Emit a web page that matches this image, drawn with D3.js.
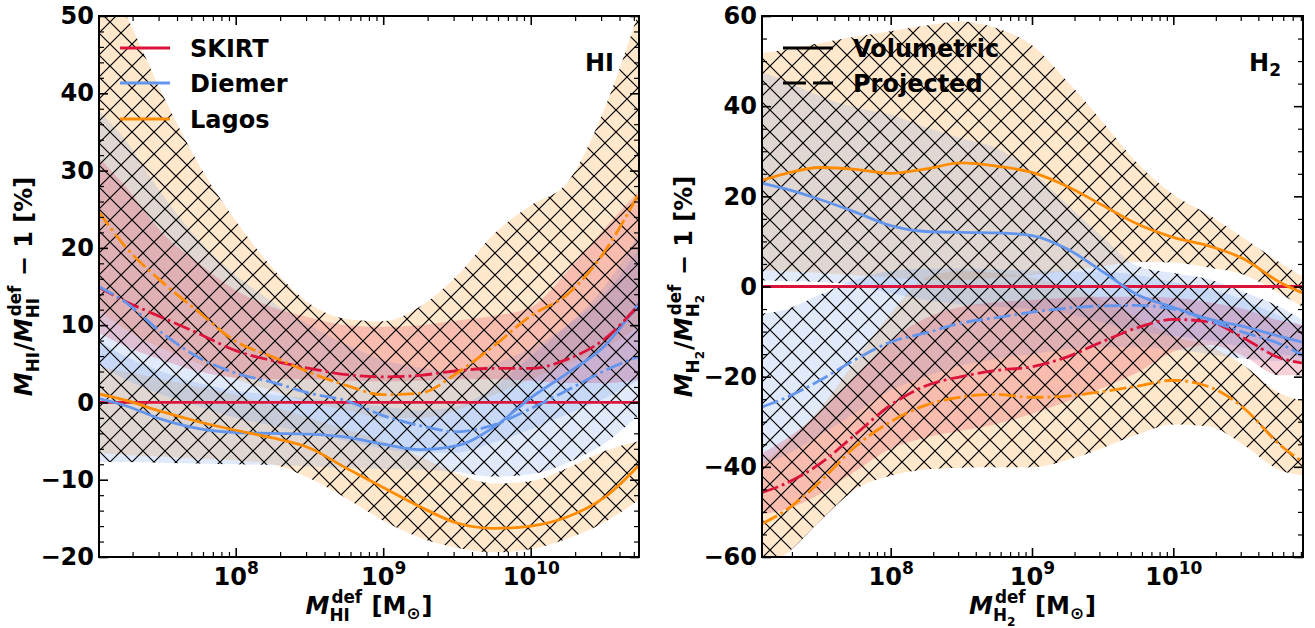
<!DOCTYPE html>
<html><head><meta charset="utf-8">
<script src="https://cdn.jsdelivr.net/npm/d3@7"></script>
<style>
html,body{margin:0;padding:0;background:#fff;}
svg{display:block;font-family:"DejaVu Sans",sans-serif;font-weight:bold;}
</style></head><body>
<svg id="chart" width="1315" height="628"></svg>
<script>
// ---------------- DATA ----------------
// Left panel (HI): log10 of M_HI^def grid
const hiLogM = [7.07, 7.25, 7.5, 7.75, 8.0, 8.25, 8.5, 8.75, 9.0, 9.25, 9.5, 9.75, 10.0, 10.25, 10.5, 10.74];
const hiSkirtVol = [0, 0, 0, 0, 0, 0, 0, 0, 0, 0, 0, 0, 0, 0, 0, 0];
const hiSkirtProj = [14.9, 13.1, 11.0, 8.9, 6.7, 5.4, 4.4, 3.6, 3.3, 3.5, 4.1, 4.4, 4.4, 5.6, 8.2, 12.8];
const hiSkirtProjLo = [9, 7.3, 5.5, 4, 3.2, 3, 3, 2.8, 2.7, 2.8, 3, 3, 2.8, 2.5, 2.5, 3];
const hiSkirtProjHi = [31.7, 28, 22, 18, 14.5, 12.3, 11, 10.0, 9.8, 10.0, 10.6, 11.2, 12.3, 17, 22.5, 27.5];
const hiDiemerVol = [0.5, -0.4, -2.2, -3.4, -3.9, -4.0, -4.1, -4.5, -5.4, -6.1, -5.6, -3.2, 0.6, 3.8, 7.3, 13];
const hiDiemerVolLo = [-7.7, -7.7, -7.8, -7.9, -8.0, -8.1, -8.3, -8.5, -8.6, -8.7, -9.0, -9.6, -9.3, -7.8, -5.3, -1.5];
const hiDiemerVolHi = [8, 6, 4, 2.5, 1.5, 1, 0.5, 0, -0.5, -1, -0.5, 2, 6, 10, 15, 22];
const hiDiemerProj = [15, 13, 9.0, 5.8, 3.8, 2.6, 1.2, 0.2, -1.7, -3.0, -3.8, -2.9, -0.8, 1.6, 4.1, 6.0];
const hiDiemerProjLo = [5, 3, 1, -0.5, -2, -3, -4, -5, -6, -6.5, -6.5, -5.2, -3.5, -1.5, 0.5, 3];
const hiDiemerProjHi = [37.8, 34, 27, 21, 16.5, 13, 10, 7.5, 5.5, 4.5, 4, 5, 7, 10, 14, 20];
const hiLagosVol = [1.1, 0.3, -1.2, -2.5, -3.6, -4.6, -5.9, -8.5, -11.0, -13.5, -15.6, -16.3, -16.0, -14.8, -12.3, -8.0];
const hiLagosVolLo = [-6.5, -6.8, -7.0, -7.3, -7.5, -8.0, -9.8, -12.4, -15.3, -17.5, -18.8, -19.4, -19.0, -17.6, -15.5, -12.5];
const hiLagosVolHi = [4.6, 4, 3, 2, 1, -0.5, -2, -3.5, -5, -7, -9.2, -10.5, -10.2, -8.5, -6.3, -5];
const hiLagosProj = [24.7, 20.2, 15.6, 11.7, 7.9, 5.9, 3.9, 2.2, 1.0, 1.2, 3.8, 7.3, 11.2, 14.0, 19.5, 27.3];
const hiLagosProjLo = [12, 9.5, 7, 5, 3, 1.5, 0, -1, -2, -2, -1, 1, 3, 5, 7, 10];
const hiLagosProjHi = [56, 50.3, 40, 30.8, 23.5, 17.4, 12.8, 10.8, 10.5, 12.4, 16.4, 21.8, 25.5, 28.5, 38, 51];

// Right panel (H2)
const h2LogM = [7.09, 7.25, 7.5, 7.75, 8.0, 8.25, 8.5, 8.75, 9.0, 9.25, 9.5, 9.75, 10.0, 10.25, 10.5, 10.75, 10.92];
const h2SkirtVol = [0, 0, 0, 0, 0, 0, 0, 0, 0, 0, 0, 0, 0, 0, 0, 0, 0];
const h2SkirtProj = [-45.7, -43.8, -39.3, -32.8, -26.3, -22, -20, -18.6, -17.8, -15.6, -12.2, -9.1, -7.3, -7.8, -11.5, -15.8, -17];
const h2SkirtProjLo = [-50.5, -49.5, -46, -41, -36, -33.5, -32, -30.5, -28.2, -25.5, -22.5, -19, -14.5, -13, -15.5, -19.7, -19.7];
const h2SkirtProjHi = [-37, -34, -28, -20, -12, -7, -4.5, -3.5, -3, -2.5, -2.3, -2.3, -2.5, -3.5, -5, -7.5, -8.5];
const h2DiemerVol = [22.9, 21.7, 19.3, 16.5, 13.5, 12.2, 12.0, 11.9, 11.3, 8.3, 3.3, -1.9, -4.6, -7.2, -8.9, -11.0, -12.4];
const h2DiemerVolLo = [1.4, 1.2, 1.0, 0.3, -1.5, -3, -4, -4.5, -5, -6, -8, -10, -11, -12, -13.5, -15, -15.6];
const h2DiemerVolHi = [47.6, 45.7, 42.2, 39.7, 38.1, 35.3, 32.9, 30.7, 25.5, 18.2, 11, 4.5, 3.0, 1.6, -1.2, -4.5, -7.5];
const h2DiemerProj = [-26.7, -24.8, -20.8, -16.2, -12.3, -10.3, -8.1, -6.9, -5.7, -4.8, -4.3, -4.2, -5.0, -7.5, -10.2, -12.7, -15.3];
const h2DiemerProjLo = [-39.4, -37.5, -33, -28, -23, -20, -17.5, -16, -15, -14, -13.5, -13.5, -14, -15, -16, -16.5, -16.5];
const h2DiemerProjHi = [-6, -5.2, -1.8, 1.5, 3.5, 4, 4, 3.8, 3.5, 3.3, 3.3, 2.5, 1, -0.5, -3, -6.5, -9];
const h2LagosVol = [23.6, 25.0, 26.4, 26.0, 25.1, 26.1, 27.4, 26.7, 25.3, 22.2, 18.0, 13.8, 10.9, 9.0, 6.1, 1.0, -1.5];
const h2LagosVolLo = [3.6, 3.4, 3, 2.5, 2, 1.5, 1.5, 2, 2.5, 3.5, 4.5, 5.5, 5.3, 4.2, 2.6, -1.5, -4.6];
const h2LagosVolHi = [51.8, 52.5, 54, 55.4, 56.6, 57.9, 58.8, 57.3, 53.5, 45.5, 36.5, 27.2, 20.4, 15.9, 10.7, 5.4, 2.1];
const h2LagosProj = [-52.6, -49.8, -43.3, -35.5, -30, -26.3, -24.5, -23.9, -24.6, -24.3, -23.3, -22.1, -20.8, -22.2, -27.0, -35.0, -39];
const h2LagosProjLo = [-62, -59.5, -52, -45, -42, -40.6, -40.2, -40.1, -40.1, -38.5, -35.8, -32.8, -30.6, -31, -35.2, -40.7, -41.9];
const h2LagosProjHi = [-39.4, -35, -27, -16.5, -6, 2, 3.5, 3, 2, 0, -3, -7, -11, -13.2, -17.5, -23.6, -25.3];

const modelNames = ["SKIRT", "Diemer", "Lagos"];
const styleNames = ["Volumetric", "Projected"];
const hiYTicks = [-20, -10, 0, 10, 20, 30, 40, 50];
const h2YTicks = [-60, -40, -20, 0, 20, 40, 60];
const xMajorTicks = [1e8, 1e9, 1e10];

// ---------------- STYLE ----------------
const COL = {SKIRT: "#DC143C", Diemer: "#6495ED", Lagos: "#FF8C00"};
const FONT = 24, SUBF = 17, LW = 2.8;

const svg = d3.select("#chart");
const defs = svg.append("defs");
const HS = 22;
const pat = defs.append("pattern").attr("id", "xhatch").attr("patternUnits", "userSpaceOnUse")
  .attr("width", HS).attr("height", HS);
pat.append("path").attr("d", `M0,0L${HS},${HS}M0,${HS}L${HS},0M-2,2L2,-2M${HS-2},${HS+2}L${HS+2},${HS-2}`)
  .attr("stroke", "#000").attr("stroke-width", 1.2).attr("fill", "none");

function mathLabel(g, items, size) {
  const sub = size * 0.7;
  let x = 0;
  for (const it of items) {
    if (it.t != null) {
      const el = g.append("text").attr("x", x).attr("y", 0).attr("font-size", size)
        .attr("font-style", it.it ? "italic" : "normal").attr("xml:space", "preserve").text(it.t);
      x += el.node().getComputedTextLength();
    } else {
      let w = 0;
      if (it.sup) {
        const el = g.append("text").attr("x", x + (it.ic || 0)).attr("y", -size * 0.45).attr("font-size", sub).text(it.sup);
        w = Math.max(w, el.node().getComputedTextLength() + (it.ic || 0));
      }
      if (it.sub) {
        const el = g.append("text").attr("x", x).attr("y", size * (it.subY || 0.3)).attr("font-size", sub).text(it.sub);
        let ww = el.node().getComputedTextLength();
        if (it.subsub) {
          const e2 = g.append("text").attr("x", x + ww).attr("y", size * (it.subY || 0.3) + sub * 0.3)
            .attr("font-size", sub * 0.72).text(it.subsub);
          ww += e2.node().getComputedTextLength();
        }
        w = Math.max(w, ww);
      }
      x += w + 1;
    }
  }
  return x;
}

function placeMath(parent, items, size, tx, ty, rot) {
  const outer = parent.append("g").attr("transform", `translate(${tx},${ty}) rotate(${rot || 0})`);
  const inner = outer.append("g");
  const w = mathLabel(inner, items, size);
  inner.attr("transform", `translate(${-w / 2},0)`);
}

function renderPanel(P) {
  const x = d3.scaleLog().domain([Math.pow(10, P.logMin), Math.pow(10, P.logMax)]).range([P.left, P.right]);
  const y = d3.scaleLinear().domain([P.yMin, P.yMax]).range([P.bottom, P.top]);
  const clipId = "clip-" + P.id;
  defs.append("clipPath").attr("id", clipId).append("rect")
    .attr("x", P.left).attr("y", P.top).attr("width", P.right - P.left).attr("height", P.bottom - P.top);
  const plot = svg.append("g").attr("clip-path", `url(#${clipId})`);
  const area = d3.area().x(d => x(d.m)).y0(d => y(d.lo)).y1(d => y(d.hi)).curve(d3.curveMonotoneX);
  const line = d3.line().x(d => x(d.m)).y(d => y(d.v)).curve(d3.curveMonotoneX);
  const bandData = b => P.logM.map((l, i) => ({m: Math.pow(10, l), lo: b.lo[i], hi: b.hi[i]}));

  P.bands.forEach(b => plot.append("path").attr("d", area(bandData(b)))
    .attr("fill", b.color).attr("fill-opacity", 0.2).attr("stroke", "none"));
  const hclip = defs.append("clipPath").attr("id", "hatch-" + P.id);
  P.bands.forEach(b => hclip.append("path").attr("d", area(bandData(b))));
  plot.append("rect").attr("x", P.left).attr("y", P.top).attr("width", P.right - P.left)
    .attr("height", P.bottom - P.top).attr("fill", "url(#xhatch)").attr("clip-path", `url(#hatch-${P.id})`);

  P.lines.forEach(L => plot.append("path")
    .attr("d", line(P.logM.map((l, i) => ({m: Math.pow(10, l), v: L.v[i]}))))
    .attr("fill", "none").attr("stroke", L.color).attr("stroke-width", LW)
    .attr("stroke-dasharray", L.dash ? "17,4,2.8,4" : null));

  // axes
  const [d0, d1] = x.domain();
  const minorX = [];
  for (let e = 6; e <= 11; e++) for (let k = 2; k <= 9; k++) {
    const v = k * Math.pow(10, e);
    if (v >= d0 && v <= d1) minorX.push(v);
  }
  const majY = P.yTicks;
  const minorY = d3.range(P.yMin, P.yMax + 1e-9, P.yMinor).filter(v => !majY.includes(v));
  const styleAxis = g => {
    g.select(".domain").remove();
    g.attr("font-size", FONT).attr("font-family", "DejaVu Sans").attr("font-weight", "bold");
    g.selectAll(".tick line").attr("stroke", "#000");
    g.selectAll(".tick text").attr("fill", "#000");
  };
  const ax = svg.append("g");
  const gb = ax.append("g").attr("transform", `translate(0,${P.bottom})`)
    .call(d3.axisBottom(x).tickValues(xMajorTicks).tickSize(-9).tickSizeOuter(0).tickFormat(() => ""))
    .call(styleAxis);
  gb.selectAll(".tick line").attr("stroke-width", 1.6);
  gb.selectAll(".tick text").each(function (d) {
    const t = d3.select(this);
    t.text(null).attr("y", 28).attr("dy", null);
    t.append("tspan").text("10");
    t.append("tspan").attr("dy", -11).attr("font-size", SUBF).text(Math.round(Math.log10(d)));
  });
  ax.append("g").attr("transform", `translate(0,${P.bottom})`)
    .call(d3.axisBottom(x).tickValues(minorX).tickSize(-5).tickSizeOuter(0).tickFormat(""))
    .call(styleAxis).selectAll("line").attr("stroke-width", 1.2);
  ax.append("g").attr("transform", `translate(0,${P.top})`)
    .call(d3.axisTop(x).tickValues(xMajorTicks).tickSize(-9).tickSizeOuter(0).tickFormat(""))
    .call(styleAxis).selectAll("line").attr("stroke-width", 1.6);
  ax.append("g").attr("transform", `translate(0,${P.top})`)
    .call(d3.axisTop(x).tickValues(minorX).tickSize(-5).tickSizeOuter(0).tickFormat(""))
    .call(styleAxis).selectAll("line").attr("stroke-width", 1.2);
  ax.append("g").attr("transform", `translate(${P.left},0)`)
    .call(d3.axisLeft(y).tickValues(majY).tickSize(-9).tickSizeOuter(0).tickPadding(5))
    .call(styleAxis).selectAll("line").attr("stroke-width", 1.6);
  ax.append("g").attr("transform", `translate(${P.left},0)`)
    .call(d3.axisLeft(y).tickValues(minorY).tickSize(-5).tickSizeOuter(0).tickFormat(""))
    .call(styleAxis).selectAll("line").attr("stroke-width", 1.2);
  ax.append("g").attr("transform", `translate(${P.right},0)`)
    .call(d3.axisRight(y).tickValues(majY).tickSize(-9).tickSizeOuter(0).tickFormat(""))
    .call(styleAxis).selectAll("line").attr("stroke-width", 1.6);
  ax.append("g").attr("transform", `translate(${P.right},0)`)
    .call(d3.axisRight(y).tickValues(minorY).tickSize(-5).tickSizeOuter(0).tickFormat(""))
    .call(styleAxis).selectAll("line").attr("stroke-width", 1.2);
  ax.append("rect").attr("x", P.left).attr("y", P.top).attr("width", P.right - P.left)
    .attr("height", P.bottom - P.top).attr("fill", "none").attr("stroke", "#000").attr("stroke-width", 2);

  // axis labels
  const lab = svg.append("g").attr("fill", "#000");
  placeMath(lab, P.xLabel, FONT, (P.left + P.right) / 2, 614, 0);
  placeMath(lab, P.yLabel, FONT, P.yLabelX, (P.top + P.bottom) / 2, -90);
}

const hiPanel = {
  id: "hi", left: 99, right: 639, top: 16, bottom: 557,
  logMin: 7.0732, logMax: 10.734, yMin: -20, yMax: 50, yMinor: 2, yTicks: hiYTicks,
  logM: hiLogM,
  bands: [
    {color: COL.Lagos, lo: hiLagosProjLo, hi: hiLagosProjHi},
    {color: COL.Lagos, lo: hiLagosVolLo, hi: hiLagosVolHi},
    {color: COL.Diemer, lo: hiDiemerProjLo, hi: hiDiemerProjHi},
    {color: COL.Diemer, lo: hiDiemerVolLo, hi: hiDiemerVolHi},
    {color: COL.SKIRT, lo: hiSkirtProjLo, hi: hiSkirtProjHi}
  ],
  lines: [
    {color: COL.SKIRT, v: hiSkirtVol},
    {color: COL.Diemer, v: hiDiemerVol},
    {color: COL.Lagos, v: hiLagosVol},
    {color: COL.SKIRT, v: hiSkirtProj, dash: true},
    {color: COL.Diemer, v: hiDiemerProj, dash: true},
    {color: COL.Lagos, v: hiLagosProj, dash: true}
  ],
  xLabel: [{t: "M", it: true}, {sub: "HI", sup: "def", ic: 2}, {t: " [M"}, {sub: "⊙", subY: 0.2}, {t: "]"}],
  yLabel: [{t: "M", it: true}, {sub: "HI"}, {t: "/"}, {t: "M", it: true}, {sub: "HI", sup: "def", ic: 2}, {t: " − 1 [%]"}],
  yLabelX: 32
};
const h2Panel = {
  id: "h2", left: 762, right: 1303, top: 16, bottom: 557,
  logMin: 7.0892, logMax: 10.918, yMin: -60, yMax: 60, yMinor: 5, yTicks: h2YTicks,
  logM: h2LogM,
  bands: [
    {color: COL.Lagos, lo: h2LagosProjLo, hi: h2LagosProjHi},
    {color: COL.Lagos, lo: h2LagosVolLo, hi: h2LagosVolHi},
    {color: COL.Diemer, lo: h2DiemerProjLo, hi: h2DiemerProjHi},
    {color: COL.Diemer, lo: h2DiemerVolLo, hi: h2DiemerVolHi},
    {color: COL.SKIRT, lo: h2SkirtProjLo, hi: h2SkirtProjHi}
  ],
  lines: [
    {color: COL.SKIRT, v: h2SkirtVol},
    {color: COL.Diemer, v: h2DiemerVol},
    {color: COL.Lagos, v: h2LagosVol},
    {color: COL.SKIRT, v: h2SkirtProj, dash: true},
    {color: COL.Diemer, v: h2DiemerProj, dash: true},
    {color: COL.Lagos, v: h2LagosProj, dash: true}
  ],
  xLabel: [{t: "M", it: true}, {sub: "H", subsub: "2", sup: "def", ic: 2}, {t: " [M"}, {sub: "⊙", subY: 0.2}, {t: "]"}],
  yLabel: [{t: "M", it: true}, {sub: "H", subsub: "2"}, {t: "/"}, {t: "M", it: true}, {sub: "H", subsub: "2", sup: "def", ic: 2}, {t: " − 1 [%]"}],
  yLabelX: 692
};

renderPanel(hiPanel);
renderPanel(h2Panel);

// legends
const leg = svg.append("g").attr("font-size", FONT).attr("fill", "#000");
const legY = [48, 83, 119];
modelNames.forEach((n, i) => {
  leg.append("line").attr("x1", 120).attr("x2", 170).attr("y1", legY[i]).attr("y2", legY[i])
    .attr("stroke", COL[n]).attr("stroke-width", LW);
  leg.append("text").attr("x", 190).attr("y", legY[i] + 9).text(n);
});
styleNames.forEach((n, i) => {
  leg.append("line").attr("x1", 783).attr("x2", 833).attr("y1", legY[i]).attr("y2", legY[i])
    .attr("stroke", "#000").attr("stroke-width", LW).attr("stroke-dasharray", i === 1 ? "23,7" : null);
  leg.append("text").attr("x", 853).attr("y", legY[i] + 9).text(n);
});
// panel tags
leg.append("text").attr("x", 614).attr("y", 71).attr("text-anchor", "end").text("HI");
const tag = leg.append("text").attr("x", 1281).attr("y", 71).attr("text-anchor", "end");
tag.append("tspan").text("H");
tag.append("tspan").attr("dy", 5).attr("font-size", SUBF).text("2");
</script></body></html>
